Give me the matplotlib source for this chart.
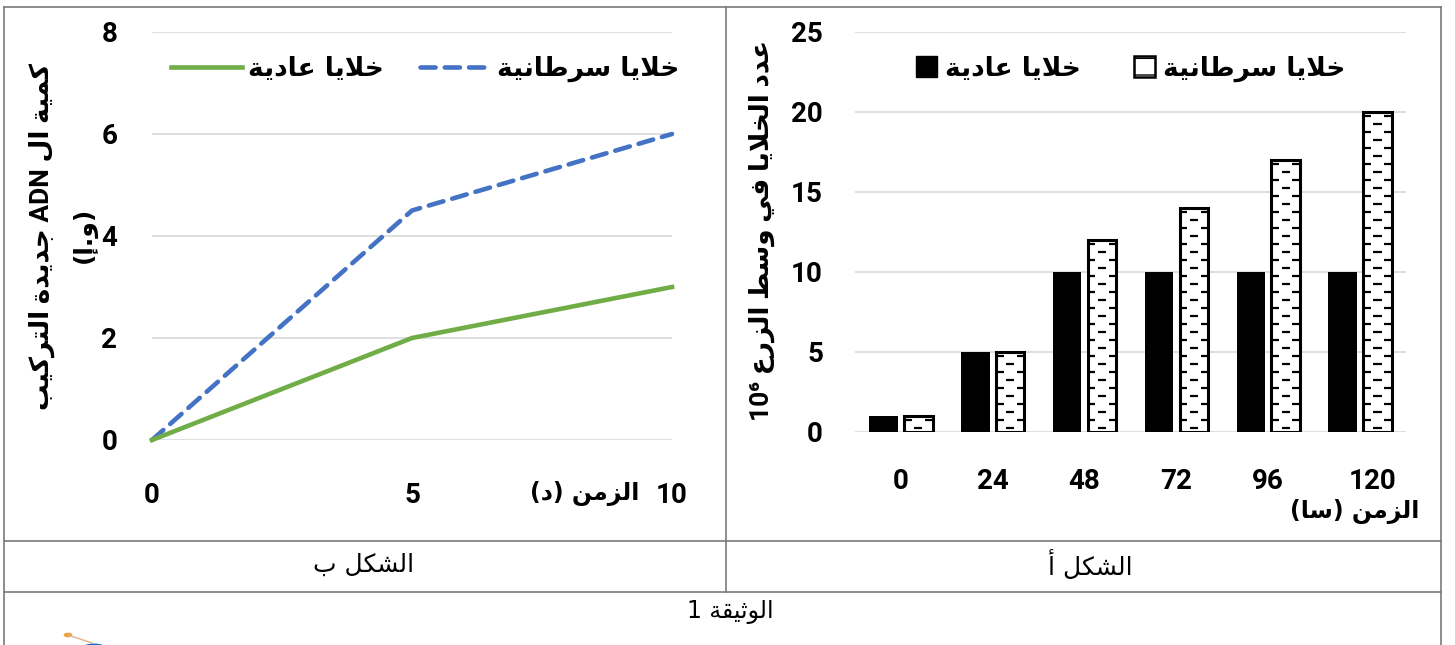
import re

import matplotlib
matplotlib.use("Agg")
import matplotlib.pyplot as plt
import matplotlib.transforms as mtransforms
from matplotlib.lines import Line2D
from matplotlib.patches import Patch, Circle
from matplotlib.collections import LineCollection

# ── Data ──────────────────────────────────────────────────────────
time_min = [0, 5, 10]
adn_normal = [0, 2, 3]
adn_cancer = [0, 4.5, 6]

hours = ["0", "24", "48", "72", "96", "120"]
cells_normal = [1, 5, 10, 10, 10, 10]
cells_cancer = [1, 5, 12, 14, 17, 20]

left_yticks = [0, 2, 4, 6, 8]
left_xticks = [0, 5, 10]
right_yticks = [0, 5, 10, 15, 20, 25]

LBL_NORMAL = "خلايا عادية"
LBL_CANCER = "خلايا سرطانية"
YLAB_LEFT = "كمية ال ADN جديدة التركيب"
YLAB_LEFT_UNIT = "(و.إ)"
XLAB_LEFT = "الزمن (د)"
YLAB_RIGHT = "عدد الخلايا في وسط الزرع 10⁶"
XLAB_RIGHT = "الزمن (سا)"
CAP_B = "الشكل ب"
CAP_A = "الشكل أ"
CAP_DOC = "الوثيقة 1"

# ── Palette ───────────────────────────────────────────────────────
GREEN = "#70ad47"
BLUE = "#4472c4"
GRID = "#d9d9d9"
FRAME = "#7a7a7a"

AR_FONT = ["DejaVu Sans"]
NUM_FONT = ["Roboto", "DejaVu Sans"]

# ── Minimal Arabic shaping + RTL ordering (no reshaper available) ─
DUAL = {"ب": 0xFE8F, "ت": 0xFE95, "ث": 0xFE99, "ج": 0xFE9D, "ح": 0xFEA1,
        "خ": 0xFEA5, "س": 0xFEB1, "ش": 0xFEB5, "ط": 0xFEC1, "ع": 0xFEC9,
        "ف": 0xFED1, "ق": 0xFED5, "ك": 0xFED9, "ل": 0xFEDD, "م": 0xFEE1,
        "ن": 0xFEE5, "ه": 0xFEE9, "ي": 0xFEF1}
RIGHT = {"ا": 0xFE8D, "أ": 0xFE83, "إ": 0xFE87, "ة": 0xFE93, "د": 0xFEA9,
         "ر": 0xFEAD, "ز": 0xFEAF, "و": 0xFEED}
LAM_ALEF = {"ا": 0xFEFB, "أ": 0xFEF7, "إ": 0xFEF9}


def shape(s):
    toks = []
    i = 0
    while i < len(s):
        if s[i] == "ل" and i + 1 < len(s) and s[i + 1] in LAM_ALEF:
            toks.append(("LA", s[i + 1]))
            i += 2
        else:
            toks.append(("C", s[i]))
            i += 1

    def joins_prev(t):
        return t[0] == "LA" or t[1] in DUAL or t[1] in RIGHT

    def joins_next(t):
        return t[0] == "C" and t[1] in DUAL

    out = []
    for k, t in enumerate(toks):
        p = k > 0 and joins_next(toks[k - 1]) and joins_prev(t)
        n = k + 1 < len(toks) and joins_next(t) and joins_prev(toks[k + 1])
        if t[0] == "LA":
            out.append(chr(LAM_ALEF[t[1]] + (1 if p else 0)))
        elif t[1] in DUAL:
            off = 3 if (p and n) else 2 if n else 1 if p else 0
            out.append(chr(DUAL[t[1]] + off))
        elif t[1] in RIGHT:
            out.append(chr(RIGHT[t[1]] + (1 if p else 0)))
        else:
            out.append(t[1])
    return "".join(out)


def ar(s):
    t = shape(s)[::-1].translate(str.maketrans("()", ")("))
    return re.sub(r"[A-Za-z0-9\u2070-\u2079]+", lambda m: m.group(0)[::-1], t)


# ── Figure ────────────────────────────────────────────────────────
W, H = 1455, 645
fig = plt.figure(figsize=(W / 100, H / 100), dpi=100, facecolor="white")


def fx(px):
    return px / W


def fy(py):
    return 1 - py / H


# table frame
def frame_line(x0, y0, x1, y1):
    fig.add_artist(Line2D([fx(x0), fx(x1)], [fy(y0), fy(y1)],
                          transform=fig.transFigure, color=FRAME, lw=1.2))


frame_line(4, 7, 1441, 7)
frame_line(4, 7, 4, 645)
frame_line(1441, 7, 1441, 645)
frame_line(4, 541, 1441, 541)
frame_line(4, 592, 1441, 592)
frame_line(726, 7, 726, 592)


def style_ticks(ax):
    for lab in ax.get_xticklabels() + ax.get_yticklabels():
        lab.set_fontfamily(NUM_FONT)
        lab.set_fontweight("bold")


# ── Left panel: line chart ────────────────────────────────────────
axL = fig.add_axes([fx(152), fy(440), fx(672) - fx(152), fy(32) - fy(440)])
axL.set_xlim(0, 10)
axL.set_ylim(0, 8)
for s in axL.spines.values():
    s.set_visible(False)
axL.set_yticks(left_yticks)
axL.set_xticks(left_xticks)
axL.yaxis.grid(True, color=GRID, lw=1.2)
axL.set_axisbelow(True)
axL.tick_params(length=0, labelsize=20, pad=25)
axL.tick_params(axis="x", pad=30)
style_ticks(axL)

axL.plot(time_min, adn_cancer, color=BLUE, lw=3.3, ls=(0, (3.3, 2.0)),
         dash_capstyle="round", clip_on=False,
         label=ar(LBL_CANCER), zorder=3)
axL.plot(time_min, adn_normal, color=GREEN, lw=3.3, clip_on=False,
         label=ar(LBL_NORMAL), zorder=3)

h, l = axL.get_legend_handles_labels()
axL.legend(h[::-1], l[::-1], ncol=2, frameon=False, loc="upper center",
           bbox_to_anchor=(0.525, 1.0), handlelength=2.7,
           columnspacing=1.4, handletextpad=0.2,
           prop={"family": AR_FONT, "weight": "bold", "size": 19})

fig.text(fx(42), fy(237), ar(YLAB_LEFT), rotation=90, ha="center", va="center",
         family=NUM_FONT, weight="bold", fontsize=19)
fig.text(fx(84), fy(235), ar(YLAB_LEFT_UNIT), rotation=90, ha="center",
         va="center", family=AR_FONT, weight="bold", fontsize=18)
fig.text(fx(585), fy(493), ar(XLAB_LEFT), ha="center", va="center",
         family=AR_FONT, weight="bold", fontsize=17)

# ── Right panel: grouped bars ─────────────────────────────────────
axR = fig.add_axes([fx(855), fy(432), fx(1406) - fx(855), fy(32) - fy(432)])
axR.set_xlim(-0.5, len(hours) - 0.5)
axR.set_ylim(0, 25)
for s in axR.spines.values():
    s.set_visible(False)
axR.set_yticks(right_yticks)
axR.set_xticks(range(len(hours)), hours)
axR.yaxis.grid(True, color=GRID, lw=1.2)
axR.set_axisbelow(True)
axR.tick_params(length=0, labelsize=20, pad=23)
axR.tick_params(axis="x", pad=26)
style_ticks(axR)
# the last category label sits a little to the right in the original
last = axR.get_xticklabels()[-1]
last.set_transform(last.get_transform() +
                   mtransforms.ScaledTranslation(12 / 100, 0, fig.dpi_scale_trans))

xs = list(range(len(hours)))
bw = 0.31
off = 0.19
axR.bar([x - off for x in xs], cells_normal, width=bw, color="black", zorder=2)
cancer_bars = axR.bar([x + off for x in xs], cells_cancer, width=bw,
                      facecolor="white", edgecolor="black", lw=2.2, zorder=2)

# dashed brick fill for the cancer bars
for bar in cancer_bars:
    x0, w, hgt = bar.get_x(), bar.get_width(), bar.get_height()
    segs = []
    y, k = 0.25, 0
    dash = 0.09
    while y < hgt:
        centers = [x0 + w * 0.5] if k % 2 == 0 else [x0 + w * 0.12, x0 + w * 0.88]
        for c in centers:
            segs.append([(c - dash / 2, y), (c + dash / 2, y)])
        y += 0.5
        k += 1
    lc = LineCollection(segs, colors="black", linewidths=1.6, zorder=3)
    axR.add_collection(lc)
    lc.set_clip_path(bar)

hR = [Patch(facecolor="black", edgecolor="black"),
      Patch(facecolor="white", edgecolor="black", hatch="-", lw=1.8)]
axR.legend(hR, [ar(LBL_NORMAL), ar(LBL_CANCER)], ncol=2, frameon=False,
           loc="upper center", bbox_to_anchor=(0.5, 1.0), handlelength=0.8,
           handleheight=0.8, columnspacing=2.0, handletextpad=0.3,
           prop={"family": AR_FONT, "weight": "bold", "size": 19})

fig.text(fx(762), fy(230), ar(YLAB_RIGHT), rotation=90, ha="center",
         va="center", family=NUM_FONT, weight="bold", fontsize=19)
fig.text(fx(1355), fy(512), ar(XLAB_RIGHT), ha="center", va="center",
         family=AR_FONT, weight="bold", fontsize=17)

# ── Table captions ────────────────────────────────────────────────
fig.text(fx(364), fy(565), ar(CAP_B), ha="center", va="center",
         family=AR_FONT, fontsize=18)
fig.text(fx(1090), fy(565), ar(CAP_A), ha="center", va="center",
         family=AR_FONT, fontsize=18)
fig.text(fx(730), fy(612), ar(CAP_DOC), ha="center", va="center",
         family=AR_FONT, fontsize=17)

# little logo peeking in at the bottom-left
fig.add_artist(Line2D([fx(68), fx(92)], [fy(635), fy(643)],
                      transform=fig.transFigure, color="#e0b090", lw=1))
fig.add_artist(Circle((fx(68), fy(635)), 0.0025, transform=fig.transFigure,
                      color="#f0a040"))
fig.add_artist(Circle((fx(94), fy(650)), 0.009, transform=fig.transFigure,
                      color="#1a6fc8"))

fig.savefig("out.png", dpi=100, facecolor="white")
